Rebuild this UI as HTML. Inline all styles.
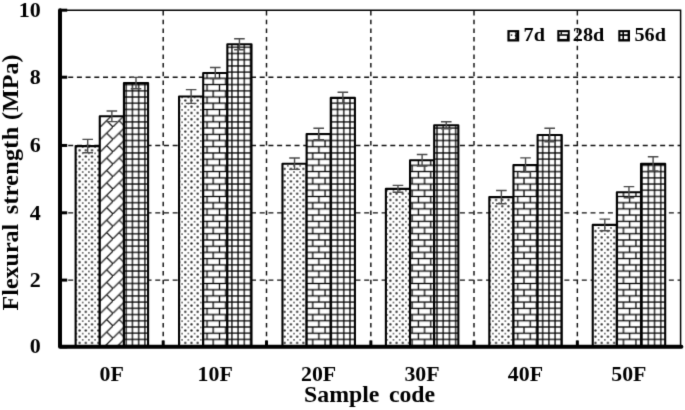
<!DOCTYPE html><html><head><meta charset="utf-8"><style>
html,body{margin:0;padding:0;background:#fff;width:685px;height:410px;overflow:hidden}
svg{display:block}
text{font-family:"Liberation Serif",serif;font-weight:bold;fill:#000}
</style></head><body>
<svg width="685" height="410" viewBox="0 0 685 410">
<defs>
<filter id="bl" x="-2%" y="-2%" width="104%" height="104%" color-interpolation-filters="sRGB"><feConvolveMatrix order="3" kernelMatrix="0.0121 0.0858 0.0121 0.0858 0.6084 0.0858 0.0121 0.0858 0.0121" edgeMode="duplicate"/></filter>
<pattern id="grid" patternUnits="userSpaceOnUse" x="1.914" y="3.78" width="6.2155" height="6.2155">
<rect width="6.2155" height="6.2155" fill="#fff"/>
<rect x="-0.630" y="0" width="1.26" height="6.2155" fill="#000"/>
<rect x="5.585" y="0" width="1.26" height="6.2155" fill="#000"/>
<rect x="0" y="-0.630" width="6.2155" height="1.26" fill="#000"/>
<rect x="0" y="5.585" width="6.2155" height="1.26" fill="#000"/>
</pattern>
<pattern id="brick" patternUnits="userSpaceOnUse" x="1.914" y="3.78" width="12.431" height="12.431">
<rect width="12.431" height="12.431" fill="#fff"/>
<rect x="0" y="-0.630" width="12.431" height="1.26" fill="#000"/>
<rect x="0" y="5.585" width="12.431" height="1.26" fill="#000"/>
<rect x="0" y="11.801" width="12.431" height="1.26" fill="#000"/>
<rect x="-0.630" y="0" width="1.26" height="6.2155" fill="#000"/>
<rect x="11.801" y="0" width="1.26" height="6.2155" fill="#000"/>
<rect x="5.585" y="6.2155" width="1.26" height="6.2155" fill="#000"/>
</pattern>
<pattern id="dots" patternUnits="userSpaceOnUse" x="1.914" y="4.2" width="6.2155" height="6.2155">
<rect width="6.2155" height="6.2155" fill="#fff"/>
<circle cx="3.1077" cy="3.1077" r="1.15" fill="#222"/>
<circle cx="0" cy="0" r="0.85" fill="#444"/>
<circle cx="6.2155" cy="0" r="0.85" fill="#444"/>
<circle cx="0" cy="6.2155" r="0.85" fill="#444"/>
<circle cx="6.2155" cy="6.2155" r="0.85" fill="#444"/>
</pattern>
<pattern id="dbrick" patternUnits="userSpaceOnUse" x="1.0" y="2.6" width="12.431" height="12.431">
<rect width="12.431" height="12.431" fill="#fff"/>
<path d="M-2,14.431 L14.431,-2 M6.2155,6.2155 L12.431,12.431 M-6.2155,6.2155 L0,12.431" stroke="#1a1a1a" stroke-width="1.25" fill="none"/>
</pattern>
</defs>
<g filter="url(#bl)">
<rect x="0" y="0" width="685" height="410" fill="#fff"/>

<line x1="59.5" y1="280.1" x2="680" y2="280.1" stroke="#111" stroke-width="1.35" stroke-dasharray="5 3.705"/>
<line x1="59.5" y1="212.8" x2="680" y2="212.8" stroke="#111" stroke-width="1.35" stroke-dasharray="5 3.705"/>
<line x1="59.5" y1="145.45" x2="680" y2="145.45" stroke="#111" stroke-width="1.35" stroke-dasharray="5 3.705"/>
<line x1="59.5" y1="77.2" x2="680" y2="77.2" stroke="#111" stroke-width="1.35" stroke-dasharray="5 3.705"/>
<line x1="163.20" y1="11.05" x2="163.20" y2="345" stroke="#111" stroke-width="1.45" stroke-dasharray="4.5 4.167"/>
<line x1="266.50" y1="11.05" x2="266.50" y2="345" stroke="#111" stroke-width="1.45" stroke-dasharray="4.5 4.167"/>
<line x1="370.85" y1="11.05" x2="370.85" y2="345" stroke="#111" stroke-width="1.45" stroke-dasharray="4.5 4.167"/>
<line x1="474.00" y1="11.05" x2="474.00" y2="345" stroke="#111" stroke-width="1.45" stroke-dasharray="4.5 4.167"/>
<line x1="577.35" y1="11.05" x2="577.35" y2="345" stroke="#111" stroke-width="1.45" stroke-dasharray="4.5 4.167"/>
<rect x="75.63" y="146.1" width="24.15" height="200.70" fill="url(#dots)" stroke="#000" stroke-width="2.1" stroke-linejoin="round"/>
<rect x="99.78" y="116.3" width="24.15" height="230.50" fill="url(#dbrick)" stroke="#000" stroke-width="2.1" stroke-linejoin="round"/>
<rect x="123.93" y="83.1" width="24.15" height="263.70" fill="url(#grid)" stroke="#000" stroke-width="2.1" stroke-linejoin="round"/>
<rect x="179.05" y="96.5" width="24.15" height="250.30" fill="url(#dots)" stroke="#000" stroke-width="2.1" stroke-linejoin="round"/>
<rect x="203.20" y="73.0" width="24.15" height="273.80" fill="url(#brick)" stroke="#000" stroke-width="2.1" stroke-linejoin="round"/>
<rect x="227.35" y="44.3" width="24.15" height="302.50" fill="url(#grid)" stroke="#000" stroke-width="2.1" stroke-linejoin="round"/>
<rect x="282.47" y="163.7" width="24.15" height="183.10" fill="url(#dots)" stroke="#000" stroke-width="2.1" stroke-linejoin="round"/>
<rect x="306.62" y="134.0" width="24.15" height="212.80" fill="url(#brick)" stroke="#000" stroke-width="2.1" stroke-linejoin="round"/>
<rect x="330.77" y="97.9" width="24.15" height="248.90" fill="url(#grid)" stroke="#000" stroke-width="2.1" stroke-linejoin="round"/>
<rect x="385.89" y="188.85" width="24.15" height="157.95" fill="url(#dots)" stroke="#000" stroke-width="2.1" stroke-linejoin="round"/>
<rect x="410.04" y="160.25" width="24.15" height="186.55" fill="url(#brick)" stroke="#000" stroke-width="2.1" stroke-linejoin="round"/>
<rect x="434.19" y="125.3" width="24.15" height="221.50" fill="url(#grid)" stroke="#000" stroke-width="2.1" stroke-linejoin="round"/>
<rect x="489.31" y="197.1" width="24.15" height="149.70" fill="url(#dots)" stroke="#000" stroke-width="2.1" stroke-linejoin="round"/>
<rect x="513.46" y="165.0" width="24.15" height="181.80" fill="url(#brick)" stroke="#000" stroke-width="2.1" stroke-linejoin="round"/>
<rect x="537.61" y="135.0" width="24.15" height="211.80" fill="url(#grid)" stroke="#000" stroke-width="2.1" stroke-linejoin="round"/>
<rect x="592.73" y="224.9" width="24.15" height="121.90" fill="url(#dots)" stroke="#000" stroke-width="2.1" stroke-linejoin="round"/>
<rect x="616.88" y="192.2" width="24.15" height="154.60" fill="url(#brick)" stroke="#000" stroke-width="2.1" stroke-linejoin="round"/>
<rect x="641.03" y="163.85" width="24.15" height="182.95" fill="url(#grid)" stroke="#000" stroke-width="2.1" stroke-linejoin="round"/>
<path d="M82.41,139.4 H93.00 M87.70,139.4 V152.80 M82.41,152.80 H93.00" stroke="#4a4a4a" stroke-width="1.4" fill="none"/>
<path d="M106.56,111.0 H117.16 M111.86,111.0 V121.60 M106.56,121.60 H117.16" stroke="#4a4a4a" stroke-width="1.4" fill="none"/>
<path d="M130.70,77.4 H141.31 M136.00,77.4 V88.80 M130.70,88.80 H141.31" stroke="#4a4a4a" stroke-width="1.4" fill="none"/>
<path d="M185.82,89.65 H196.43 M191.12,89.65 V103.35 M185.82,103.35 H196.43" stroke="#4a4a4a" stroke-width="1.4" fill="none"/>
<path d="M209.97,67.5 H220.58 M215.28,67.5 V78.50 M209.97,78.50 H220.58" stroke="#4a4a4a" stroke-width="1.4" fill="none"/>
<path d="M234.12,38.8 H244.73 M239.43,38.8 V49.80 M234.12,49.80 H244.73" stroke="#4a4a4a" stroke-width="1.4" fill="none"/>
<path d="M289.25,158.0 H299.85 M294.55,158.0 V169.40 M289.25,169.40 H299.85" stroke="#4a4a4a" stroke-width="1.4" fill="none"/>
<path d="M313.39,128.2 H324.00 M318.69,128.2 V139.80 M313.39,139.80 H324.00" stroke="#4a4a4a" stroke-width="1.4" fill="none"/>
<path d="M337.55,92.3 H348.15 M342.85,92.3 V103.50 M337.55,103.50 H348.15" stroke="#4a4a4a" stroke-width="1.4" fill="none"/>
<path d="M392.66,185.4 H403.26 M397.96,185.4 V192.30 M392.66,192.30 H403.26" stroke="#4a4a4a" stroke-width="1.4" fill="none"/>
<path d="M416.81,154.45 H427.41 M422.11,154.45 V166.05 M416.81,166.05 H427.41" stroke="#4a4a4a" stroke-width="1.4" fill="none"/>
<path d="M440.96,121.8 H451.56 M446.26,121.8 V128.80 M440.96,128.80 H451.56" stroke="#4a4a4a" stroke-width="1.4" fill="none"/>
<path d="M496.08,190.5 H506.69 M501.38,190.5 V203.70 M496.08,203.70 H506.69" stroke="#4a4a4a" stroke-width="1.4" fill="none"/>
<path d="M520.24,157.9 H530.84 M525.54,157.9 V172.10 M520.24,172.10 H530.84" stroke="#4a4a4a" stroke-width="1.4" fill="none"/>
<path d="M544.39,128.2 H554.99 M549.69,128.2 V141.80 M544.39,141.80 H554.99" stroke="#4a4a4a" stroke-width="1.4" fill="none"/>
<path d="M599.51,219.1 H610.11 M604.81,219.1 V230.70 M599.51,230.70 H610.11" stroke="#4a4a4a" stroke-width="1.4" fill="none"/>
<path d="M623.66,186.6 H634.25 M628.96,186.6 V197.80 M623.66,197.80 H634.25" stroke="#4a4a4a" stroke-width="1.4" fill="none"/>
<path d="M647.81,156.8 H658.40 M653.11,156.8 V170.90 M647.81,170.90 H658.40" stroke="#4a4a4a" stroke-width="1.4" fill="none"/>
<path d="M60.0,10.2 H680.6 V346.8" stroke="#000" stroke-width="1.5" fill="none"/>
<path d="M60.0,10.2 V346.8 H681.4" stroke="#000" stroke-width="4.0" fill="none" stroke-linejoin="round" stroke-linecap="round"/>
<line x1="60.0" y1="346.8" x2="67.2" y2="346.8" stroke="#000" stroke-width="3"/>
<line x1="60.0" y1="280.1" x2="67.2" y2="280.1" stroke="#000" stroke-width="3"/>
<line x1="60.0" y1="212.8" x2="67.2" y2="212.8" stroke="#000" stroke-width="3"/>
<line x1="60.0" y1="145.45" x2="67.2" y2="145.45" stroke="#000" stroke-width="3"/>
<line x1="60.0" y1="77.2" x2="67.2" y2="77.2" stroke="#000" stroke-width="3"/>
<line x1="60.0" y1="10.2" x2="67.2" y2="10.2" stroke="#000" stroke-width="3"/>
<line x1="163.20" y1="346.8" x2="163.20" y2="340.5" stroke="#000" stroke-width="3"/>
<line x1="266.50" y1="346.8" x2="266.50" y2="340.5" stroke="#000" stroke-width="3"/>
<line x1="370.85" y1="346.8" x2="370.85" y2="340.5" stroke="#000" stroke-width="3"/>
<line x1="474.00" y1="346.8" x2="474.00" y2="340.5" stroke="#000" stroke-width="3"/>
<line x1="577.35" y1="346.8" x2="577.35" y2="340.5" stroke="#000" stroke-width="3"/>
<text transform="translate(40.8,353.4) scale(1.0,1)" font-size="22" text-anchor="end">0</text>
<text transform="translate(40.8,286.8) scale(1.0,1)" font-size="22" text-anchor="end">2</text>
<text transform="translate(40.8,219.5) scale(1.0,1)" font-size="22" text-anchor="end">4</text>
<text transform="translate(40.8,152.1) scale(1.0,1)" font-size="22" text-anchor="end">6</text>
<text transform="translate(40.8,83.9) scale(1.0,1)" font-size="22" text-anchor="end">8</text>
<text transform="translate(40.8,16.9) scale(1.0,1)" font-size="22" text-anchor="end">10</text>
<text transform="translate(111.71,381) scale(1.04,1)" font-size="21" text-anchor="middle">0F</text>
<text transform="translate(215.13,381) scale(1.04,1)" font-size="21" text-anchor="middle">10F</text>
<text transform="translate(318.55,381) scale(1.04,1)" font-size="21" text-anchor="middle">20F</text>
<text transform="translate(421.97,381) scale(1.04,1)" font-size="21" text-anchor="middle">30F</text>
<text transform="translate(525.39,381) scale(1.04,1)" font-size="21" text-anchor="middle">40F</text>
<text transform="translate(628.81,381) scale(1.04,1)" font-size="21" text-anchor="middle">50F</text>
<text x="369.6" y="402.1" font-size="23.8" text-anchor="middle" word-spacing="3.6">Sample code</text>
<text transform="translate(18.4,310.4) rotate(-90)" font-size="24"><tspan x="0">Flexural</tspan><tspan x="96.14" textLength="87.3" lengthAdjust="spacing">strength</tspan><tspan x="190.5">(MPa)</tspan></text>
<rect x="507.4" y="30.1" width="11.8" height="11.4" fill="#000"/>
<rect x="509.7" y="32.2" width="7.3" height="7.0" fill="#fff"/>
<circle cx="511.5" cy="35.1" r="0.95" fill="#222"/>
<path d="M517,32.2 L514.6,32.2 L515.6,34.0 L514.6,35.6 L515.6,37.4 L514.6,39.2 L517,39.2 Z" fill="#111"/>
<rect x="557.3" y="30.1" width="12.4" height="11.4" fill="#000"/>
<rect x="559.2" y="32.2" width="8.6" height="2.0" fill="#fff"/>
<rect x="559.2" y="32.2" width="1.6" height="2.0" fill="#999"/>
<rect x="560.8" y="32.2" width="1.2" height="2.0" fill="#000"/>
<rect x="559.6" y="35.8" width="7.3" height="3.1" fill="#fff"/>
<rect x="618.3" y="30.1" width="11.7" height="11.4" fill="#000"/>
<rect x="620.4" y="32.2" width="2.0" height="2.0" fill="#fff"/>
<rect x="624.0" y="32.2" width="3.6" height="2.0" fill="#fff"/>
<rect x="620.4" y="35.9" width="2.0" height="3.2" fill="#fff"/>
<rect x="624.0" y="35.9" width="3.6" height="3.2" fill="#fff"/>
<text transform="translate(523.6,41.2) scale(1.065,1)" font-size="19">7d</text>
<text transform="translate(572.8,41.3) scale(1.065,1)" font-size="19">28d</text>
<text transform="translate(634.5,41.4) scale(1.065,1)" font-size="19">56d</text>
</g></svg></body></html>
